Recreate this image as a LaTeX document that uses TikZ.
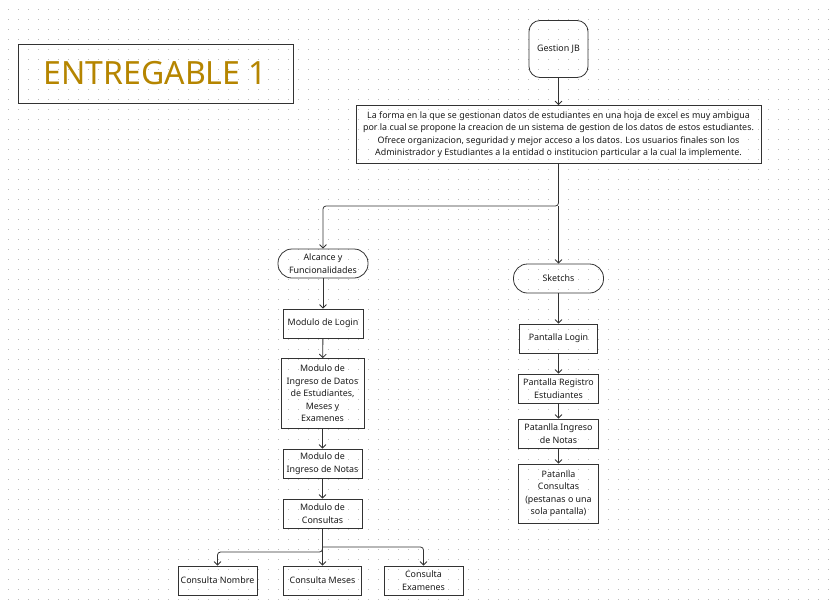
\documentclass[tikz,border=0pt]{standalone}
\usepackage{fontspec}
\setmainfont{Noto Sans}
\usetikzlibrary{arrows.meta}
\definecolor{linea}{HTML}{333333}
\definecolor{texto}{HTML}{1A1A1A}
\definecolor{dorado}{HTML}{B58500}
\definecolor{punto}{HTML}{BBBBBB}
\tikzset{
  caja/.style={draw=linea, line width=0.8pt, inner sep=0pt, align=center,
    text=texto, font=\fontsize{8.9}{12.5}\selectfont},
  redonda/.style={caja, rounded corners=11pt},
  pildora/.style={caja, rounded corners=14pt},
  flecha/.style={draw=linea, line width=0.8pt, rounded corners=3pt,
    -{Straight Barb[length=3.5pt,width=7pt]}}
}

\begin{document}
\begin{tikzpicture}[x=1pt, y=-1pt]
    \useasboundingbox (0, 0) rectangle (833, 608);
    \foreach \i in {0,...,82} {
      \foreach \j in {0,...,59} {
        \fill[punto] (\i*10+7.6, \j*10+8.6) rectangle +(0.9, 0.9);
      }
    }

    \node[caja, minimum width=275pt, minimum height=59pt, text=dorado,
      font=\fontsize{32}{38}\selectfont] (titulo) at (155.5, 73.5)
      {ENTREGABLE 1};

    \node[redonda, minimum width=59pt, minimum height=57pt] (gestion)
      at (558.5, 49) {Gestion JB};
    \node[caja, minimum width=405pt, minimum height=58pt] (desc)
      at (558.5, 134.5) {La forma en la que se gestionan datos de estudiantes
      en una hoja de excel es muy ambigua\\ por la cual se propone la
      creacion de un sistema de gestion de los datos de estos estudiantes.\\
      Ofrece organizacion, seguridad y mejor acceso a los datos. Los usuarios
      finales son los\\ Administrador y Estudiantes a la entidad o institucion
      particular a la cual la implemente.};

    \node[pildora, minimum width=90pt, minimum height=29pt] (alcance)
      at (323, 263.5) {Alcance y\\ Funcionalidades};
    \node[caja, minimum width=80pt, minimum height=29pt] (login)
      at (323, 323.5) {Modulo de Login};
    \node[caja, minimum width=83pt, minimum height=70pt] (ingreso)
      at (322.5, 393.5) {Modulo de\\ Ingreso de Datos\\ de Estudiantes,\\
      Meses y\\ Examenes};
    \node[caja, minimum width=79pt, minimum height=29pt] (notas)
      at (322.5, 463.5) {Modulo de\\ Ingreso de Notas};
    \node[caja, minimum width=79pt, minimum height=29pt] (consultas)
      at (322.5, 513.5) {Modulo de\\ Consultas};
    \node[caja, minimum width=79pt, minimum height=29pt] (cnombre)
      at (217.5, 580.5) {Consulta Nombre};
    \node[caja, minimum width=78pt, minimum height=29pt] (cmeses)
      at (322.5, 580.5) {Consulta Meses};
    \node[caja, minimum width=79pt, minimum height=29pt] (cexamenes)
      at (423.5, 580.5) {Consulta\\ Examenes};

    \node[pildora, minimum width=90pt, minimum height=29pt] (sketchs)
      at (558.5, 278.5) {Sketchs};
    \node[caja, minimum width=78pt, minimum height=29pt] (plogin)
      at (558.5, 338.5) {Pantalla Login};
    \node[caja, minimum width=80pt, minimum height=29pt] (pregistro)
      at (558.5, 388.5) {Pantalla Registro\\ Estudiantes};
    \node[caja, minimum width=80pt, minimum height=29pt] (pnotas)
      at (558.5, 433.5) {Patanlla Ingreso\\ de Notas};
    \node[caja, minimum width=80pt, minimum height=59pt] (pconsultas)
      at (558.5, 493.5) {Patanlla\\ Consultas\\ (pestanas o una\\
      sola pantalla)};

    \draw[flecha] (gestion) -- (desc);
    \coordinate (rama) at (558.5, 206);
    \draw[flecha] (desc.south) -- (rama) -| (alcance.north);
    \draw[flecha] (rama) -- (sketchs.north);

    \draw[flecha] (alcance) -- (login);
    \draw[flecha] (login) -- (ingreso);
    \draw[flecha] (ingreso) -- (notas);
    \draw[flecha] (notas) -- (consultas);
    \coordinate (izq) at (322.5, 552);
    \coordinate (der) at (322.5, 547);
    \draw[flecha] (consultas.south) -- (izq) -| (cnombre.north);
    \draw[flecha] (consultas) -- (cmeses);
    \draw[flecha] (der) -| (cexamenes.north);

    \draw[flecha] (sketchs) -- (plogin);
    \draw[flecha] (plogin) -- (pregistro);
    \draw[flecha] (pregistro) -- (pnotas);
    \draw[flecha] (pnotas) -- (pconsultas);
  \end{tikzpicture}
\end{document}
